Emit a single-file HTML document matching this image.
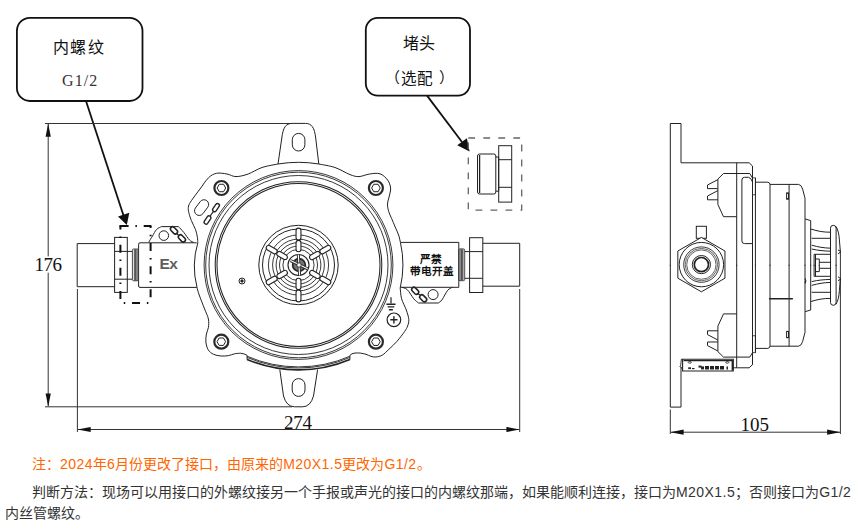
<!DOCTYPE html>
<html lang="zh-CN">
<head>
<meta charset="utf-8">
<style>
html,body{margin:0;padding:0;background:#fff;}
body{width:860px;height:532px;overflow:hidden;position:relative;font-family:"Liberation Sans",sans-serif;}
svg{position:absolute;left:0;top:0;}
.t{position:absolute;white-space:nowrap;}
.l{letter-spacing:0.45px;}
.note{position:absolute;left:5px;width:851px;font-size:14px;line-height:21px;color:#333;}
</style>
</head>
<body>
<svg width="860" height="532" viewBox="0 0 860 532">
<g fill="none" stroke="#222" stroke-width="1">
<rect x="16.9" y="17.8" width="125.6" height="83.2" rx="13" stroke="#111" stroke-width="1.8"/>
<rect x="365.8" y="17.9" width="104.2" height="77.7" rx="12" stroke="#111" stroke-width="1.8"/>
</g>
<g stroke="#111" stroke-width="1.8" fill="#111">
<line x1="86" y1="101" x2="123.5" y2="215.5"/>
<path d="M126.8,224.9 L118,216.6 L129.3,212.8 z" stroke="none"/>
<line x1="427" y1="95.6" x2="462" y2="142"/>
<path d="M469.6,151.5 L457.2,145.2 L466.9,138.2 z" stroke="none"/>
</g>
<g stroke="#333" stroke-width="1" fill="none">
<line x1="45" y1="123.5" x2="290" y2="123.5"/>
<line x1="45" y1="406.8" x2="292" y2="406.8"/>
<line x1="48.2" y1="124" x2="48.2" y2="256.4"/><line x1="48.2" y1="272.7" x2="48.2" y2="406"/>
<line x1="77.4" y1="289" x2="77.4" y2="432"/>
<line x1="519.7" y1="289" x2="519.7" y2="432"/>
<line x1="78" y1="429.5" x2="519" y2="429.5"/>
<line x1="670.3" y1="409.5" x2="670.3" y2="434"/>
<line x1="840.4" y1="252" x2="840.4" y2="434"/>
<line x1="671" y1="432.2" x2="840" y2="432.2"/>
</g>
<g fill="#111" stroke="none">
<path d="M48.2,123.5 L45.6,136.8 L50.8,136.8 z"/>
<path d="M48.2,406.8 L45.6,393.5 L50.8,393.5 z"/>
<path d="M77.4,429.5 L90.7,426.9 L90.7,432.1 z"/>
<path d="M519.7,429.5 L506.4,426.9 L506.4,432.1 z"/>
<path d="M670.3,432.2 L683.6,429.6 L683.6,434.8 z"/>
<path d="M840.4,432.2 L827.1,429.6 L827.1,434.8 z"/>
</g>
<g fill="none" stroke="#222" stroke-width="1">
<path d="M278,164 L281.8,138 C283,127.5 286,123.4 292,123.4 L305.5,123.4 C311.5,123.4 314.5,127.5 315.7,138 L318.8,164"/>
<path d="M278,164 Q298.5,160.6 318.8,164"/>
<path d="M318.8,164 C321.5,164.58 329.8,165.73 335,167.5 C340.2,169.27 346,173.08 350,174.6 C354,176.12 355.73,176.7 359,176.6 C362.27,176.5 366.1,174.47 369.6,174 C373.1,173.53 377,172.8 380,173.8 C383,174.8 385.83,177.63 387.6,180 C389.37,182.37 390.32,185.33 390.6,188 C390.88,190.67 389.82,193.33 389.3,196 C388.78,198.67 387.6,201.42 387.5,204 C387.4,206.58 388.02,209.08 388.7,211.5 C389.38,213.92 390.52,215.92 391.6,218.5 C392.68,221.08 394.03,224.25 395.2,227 C396.37,229.75 397.73,232.45 398.6,235 C399.47,237.55 400.1,241.08 400.4,242.3"/>
<path d="M400.2,288 C400.43,289.8 400.58,295.13 401.6,298.8 C402.62,302.47 405.1,306.55 406.3,310 C407.5,313.45 408.58,316.83 408.8,319.5 C409.02,322.17 408.3,324 407.6,326 C406.9,328 406.37,328.95 404.6,331.5 C402.83,334.05 399.63,338.32 397,341.3 C394.37,344.28 391.25,347.1 388.8,349.4 C386.35,351.7 384.47,353.83 382.3,355.1 C380.13,356.37 377.7,356.8 375.8,357 C373.9,357.2 372.53,356.75 370.9,356.3 C369.27,355.85 367.77,354.83 366,354.3 C364.23,353.77 362.13,353.32 360.3,353.1 C358.47,352.88 355.88,353.02 355,353"/>
<path d="M278,164 C275.33,164.58 266.97,165.83 262,167.5 C257.03,169.17 252.53,172.48 248.2,174 C243.87,175.52 239.53,176.6 236,176.6 C232.47,176.6 230.23,174.55 227,174 C223.77,173.45 219.68,172.67 216.6,173.3 C213.52,173.93 211.27,175.18 208.5,177.8 C205.73,180.42 202.83,185.22 200,189 C197.17,192.78 193.4,197.67 191.5,200.5 C189.6,203.33 189.08,204.17 188.6,206 C188.12,207.83 188.15,209.1 188.6,211.5 C189.05,213.9 190.13,217.35 191.3,220.4 C192.47,223.45 194.58,226.98 195.6,229.8 C196.62,232.62 197.03,235.13 197.4,237.3 C197.77,239.47 197.73,241.88 197.8,242.8"/>
<path d="M196.8,287 C197.2,288.33 197.9,291.33 199.2,295 C200.5,298.67 203.07,305 204.6,309 C206.13,313 207.77,315.92 208.4,319 C209.03,322.08 208.73,325 208.4,327.5 C208.07,330 206.82,331.58 206.4,334 C205.98,336.42 205.6,339.37 205.9,342 C206.2,344.63 206.93,347.75 208.2,349.8 C209.47,351.85 211.37,353.27 213.5,354.3 C215.63,355.33 218.5,355.78 221,356 C223.5,356.22 226.25,355.97 228.5,355.6 C230.75,355.23 232.5,354.2 234.5,353.8 C236.5,353.4 239.5,353.3 240.5,353.2"/>
<path d="M400.4,242.3 Q405.6,265 400.2,288 M197.8,242.8 Q191.2,265 197,287.2"/>
<path d="M240.5,353.2 Q244,353.4 247.1,355.4 L247.1,359.7"/>
<path d="M355,353 Q351.5,353.4 349.9,355.4 L349.9,359.7"/>
<path d="M349.9,356.24 A129.2,129.2 0 0 1 247.1,356.24" stroke-width="0.9"/>
<path d="M349.9,357.43 A130.3,130.3 0 0 1 247.1,357.43" stroke-width="0.9"/>
<path d="M349.9,359.5 A132.2,132.2 0 0 1 247.1,359.5" stroke-width="1.7"/>
<path d="M279.8,369.6 L283.5,396 Q286.5,406.8 294.5,406.8 L302.5,406.8 Q310.5,406.8 313.5,396 L317.6,369.6"/>
<rect x="292.3" y="133.4" width="12.6" height="17.6" rx="6.3"/>
<rect x="292.2" y="378.6" width="12.8" height="17.8" rx="6.4"/>
<circle cx="298.5" cy="265.0" r="94.4" stroke-width="0.9"/>
<circle cx="298.5" cy="265.0" r="92.8" stroke-width="0.9"/>
<circle cx="298.5" cy="265.0" r="89.5" stroke-width="0.9"/>
<circle cx="298.5" cy="265.0" r="83.3" stroke-width="1.05"/>
<circle cx="298.5" cy="265.0" r="81.5" stroke-width="1.05"/>
<circle cx="221.4" cy="188" r="7" stroke="#2a2a2a" stroke-width="2.2"/>
<path d="M225.7,188 L223.55,191.72 L219.25,191.72 L217.1,188 L219.25,184.28 L223.55,184.28Z" stroke-width="1"/>
<circle cx="375.9" cy="188" r="7" stroke="#2a2a2a" stroke-width="2.2"/>
<path d="M380.2,188 L378.05,191.72 L373.75,191.72 L371.6,188 L373.75,184.28 L378.05,184.28Z" stroke-width="1"/>
<circle cx="221.3" cy="341.7" r="7" stroke="#2a2a2a" stroke-width="2.2"/>
<path d="M225.6,341.7 L223.45,345.42 L219.15,345.42 L217,341.7 L219.15,337.98 L223.45,337.98Z" stroke-width="1"/>
<circle cx="375.9" cy="341.7" r="7" stroke="#2a2a2a" stroke-width="2.2"/>
<path d="M380.2,341.7 L378.05,345.42 L373.75,345.42 L371.6,341.7 L373.75,337.98 L378.05,337.98Z" stroke-width="1"/>
<path d="M195.41,208.01 L200.28,201.54 A4.7,4.7 0 0 1 207.79,207.19 L202.92,213.66 A4.7,4.7 0 0 1 195.41,208.01Z"/>
<path d="M212.9,208.71 L215.87,204.31 A1.95,1.95 0 0 1 219.1,206.49 L216.13,210.89 A1.95,1.95 0 0 1 212.9,208.71Z" stroke-width="1.35"/>
<path d="M213.3,211.6 L210.2,216" stroke-width="1.2"/>
<path d="M204.4,221.11 L207.37,216.71 A1.95,1.95 0 0 1 210.6,218.89 L207.63,223.29 A1.95,1.95 0 0 1 204.4,221.11Z" stroke-width="1.35"/>
<circle cx="242" cy="281" r="3"/><circle cx="242" cy="281" r="1.2" fill="#222"/>
<path d="M391,297.3 L391,303.6" stroke-width="1.2"/>
<path d="M386.4,304.2 L395.5,304.2 M387.6,306.9 L394.3,306.9 M388.9,309.7 L392.9,309.7" stroke-width="1.4"/>
<circle cx="393.9" cy="319.8" r="6.8" stroke-width="1.2"/>
<path d="M390.3,319.8 L397.5,319.8 M393.9,316.2 L393.9,323.4" stroke-width="1.4"/>
<circle cx="298.5" cy="265.0" r="39.7"/>
<circle cx="298.5" cy="265.0" r="36"/>
<circle cx="298.5" cy="265.0" r="30.1" stroke-width="0.9"/>
<circle cx="298.5" cy="265.0" r="25.9" stroke-width="0.9"/>
<circle cx="298.5" cy="265.0" r="22.4" stroke-width="0.9"/>
<circle cx="298.5" cy="265.0" r="19.0" stroke-width="0.9"/>
<circle cx="298.5" cy="265.0" r="15.6" stroke-width="0.9"/>
<circle cx="298.5" cy="265.0" r="10.5" stroke-width="1.1"/>
<path d="M300.95,292.45 L300.95,299.45 A2.45,2.45 0 0 1 296.05,299.45 L296.05,292.45 A2.45,2.45 0 0 1 300.95,292.45Z" fill="#fff" stroke-width="1.1"/>
<path d="M300.95,280.65 L300.95,287.15 A2.45,2.45 0 0 1 296.05,287.15 L296.05,280.65 A2.45,2.45 0 0 1 300.95,280.65Z" fill="#fff" stroke-width="1.1"/>
<path d="M275.95,280.85 L269.89,284.35 A2.45,2.45 0 0 1 267.44,280.1 L273.5,276.6 A2.45,2.45 0 0 1 275.95,280.85Z" fill="#fff" stroke-width="1.1"/>
<path d="M286.17,274.95 L280.54,278.2 A2.45,2.45 0 0 1 278.09,273.95 L283.72,270.7 A2.45,2.45 0 0 1 286.17,274.95Z" fill="#fff" stroke-width="1.1"/>
<path d="M273.5,253.4 L267.44,249.9 A2.45,2.45 0 0 1 269.89,245.65 L275.95,249.15 A2.45,2.45 0 0 1 273.5,253.4Z" fill="#fff" stroke-width="1.1"/>
<path d="M283.72,259.3 L278.09,256.05 A2.45,2.45 0 0 1 280.54,251.8 L286.17,255.05 A2.45,2.45 0 0 1 283.72,259.3Z" fill="#fff" stroke-width="1.1"/>
<path d="M296.05,237.55 L296.05,230.55 A2.45,2.45 0 0 1 300.95,230.55 L300.95,237.55 A2.45,2.45 0 0 1 296.05,237.55Z" fill="#fff" stroke-width="1.1"/>
<path d="M296.05,249.35 L296.05,242.85 A2.45,2.45 0 0 1 300.95,242.85 L300.95,249.35 A2.45,2.45 0 0 1 296.05,249.35Z" fill="#fff" stroke-width="1.1"/>
<path d="M321.05,249.15 L327.11,245.65 A2.45,2.45 0 0 1 329.56,249.9 L323.5,253.4 A2.45,2.45 0 0 1 321.05,249.15Z" fill="#fff" stroke-width="1.1"/>
<path d="M310.83,255.05 L316.46,251.8 A2.45,2.45 0 0 1 318.91,256.05 L313.28,259.3 A2.45,2.45 0 0 1 310.83,255.05Z" fill="#fff" stroke-width="1.1"/>
<path d="M323.5,276.6 L329.56,280.1 A2.45,2.45 0 0 1 327.11,284.35 L321.05,280.85 A2.45,2.45 0 0 1 323.5,276.6Z" fill="#fff" stroke-width="1.1"/>
<path d="M313.28,270.7 L318.91,273.95 A2.45,2.45 0 0 1 316.46,278.2 L310.83,274.95 A2.45,2.45 0 0 1 313.28,270.7Z" fill="#fff" stroke-width="1.1"/>
<circle cx="299" cy="265" r="6.3" fill="#777" stroke="#2a2a2a" stroke-width="1.8"/>
<path d="M290.6,260.6 L307.6,268.8 M298.3,254.6 L299.6,275.4" stroke="#2a2a2a" stroke-width="3"/>
<path d="M290.6,260.6 L307.6,268.8 M298.3,254.6 L299.6,275.4" stroke="#fff" stroke-width="1.1"/>
<circle cx="299" cy="265" r="2.2" fill="#fff" stroke="#2a2a2a" stroke-width="0.9"/>

</g>
<g fill="none" stroke="#222" stroke-width="1">
<path d="M196.7,242.8 L140,242.8 Q138.6,242.8 138.6,244.2 L138.6,286 Q138.6,287.4 140,287.4 L196.8,287.4"/>
<path d="M148.8,242 C149.42,241 151.22,238.08 152.5,236 C153.78,233.92 155,231.07 156.5,229.5 C158,227.93 160.67,227.08 161.5,226.6"/>
<path d="M161.5,226.6 L178.5,226.6"/>
<path d="M178.5,226.6 C179.38,227.57 181.97,230.17 183.8,232.4 C185.63,234.63 187.88,238.35 189.5,240 C191.12,241.65 192.83,241.92 193.5,242.3"/>
<circle cx="163.8" cy="235.6" r="4.8"/>
<path d="M174.19,227.43 L176.97,230.31 A2.2,2.2 0 0 1 173.81,233.37 L171.03,230.49 A2.2,2.2 0 0 1 174.19,227.43Z" stroke-width="1.55"/>
<path d="M182.09,235.43 L184.87,238.31 A2.2,2.2 0 0 1 181.71,241.37 L178.93,238.49 A2.2,2.2 0 0 1 182.09,235.43Z" stroke-width="1.55"/>
<path d="M176.6,233.5 L179,235.6 M418,293.8 L420.4,295.3" stroke-width="1.2"/>
<rect x="134.2" y="249.4" width="4.2" height="31.2" fill="#8a8a8a" stroke="none"/>
<rect x="132.4" y="249" width="6" height="31.8" rx="1.3" stroke="#333" stroke-width="0.9"/>
<line x1="134.3" y1="249.4" x2="134.3" y2="280.4" stroke="#444" stroke-width="0.8"/>
<line x1="135.6" y1="249.4" x2="135.6" y2="280.4" stroke="#444" stroke-width="0.8"/>
<path d="M114.6,251.4 L132.2,251.4 M114.6,279.2 L132.2,279.2"/>
<rect x="114.6" y="237.4" width="12.7" height="55"/>
<path d="M114.6,243.6 L77.2,243.6 L77.2,286.7 L114.6,286.7"/>
<path d="M119.4,226 L151.4,226" stroke="#111" stroke-width="2" fill="none" style="stroke-dasharray:9.2,6.8,1.5,6.8"/>
<path d="M150.6,226 L150.6,303" stroke="#111" stroke-width="2" stroke-dasharray="8,6.8,1.5,6.8" fill="none" stroke-dashoffset="6"/>
<path d="M150.6,303 L120.4,303" stroke="#111" stroke-width="2" stroke-dasharray="8,6.8,1.5,6.8" fill="none" stroke-dashoffset="12.55"/>
<path d="M120.4,226 L120.4,303" stroke="#111" stroke-width="2" stroke-dasharray="8,6.8,1.5,6.8" fill="none" stroke-dashoffset="4.4"/>
<path d="M400.7,242.4 L458.8,242.4 L458.8,287.3 L400.7,287.3"/>
<path d="M401.6,287.3 C402.53,287.68 405.17,287.68 407.2,289.6 C409.23,291.52 411.92,296.57 413.8,298.8 C415.68,301.03 417.72,302.3 418.5,303"/>
<path d="M418.5,303 L438.3,303"/>
<path d="M438.3,303 C438.92,302.47 440.43,301.92 442,299.8 C443.57,297.68 445.97,292.38 447.7,290.3 C449.43,288.22 451.62,287.8 452.4,287.3"/>
<circle cx="433.1" cy="294.6" r="5"/>
<path d="M415.41,287.9 L418.1,290.59 A2.2,2.2 0 0 1 414.99,293.7 L412.3,291.01 A2.2,2.2 0 0 1 415.41,287.9Z" stroke-width="1.55"/>
<path d="M423.41,295.4 L426.1,298.09 A2.2,2.2 0 0 1 422.99,301.2 L420.3,298.51 A2.2,2.2 0 0 1 423.41,295.4Z" stroke-width="1.55"/>
<rect x="458.8" y="249.3" width="4.6" height="31.2" fill="#8a8a8a" stroke="none"/>
<rect x="458.7" y="248.9" width="6" height="31.8" rx="1.3" stroke="#333" stroke-width="0.9"/>
<line x1="462.8" y1="249.3" x2="462.8" y2="280.3" stroke="#444" stroke-width="0.8"/>
<line x1="461.5" y1="249.3" x2="461.5" y2="280.3" stroke="#444" stroke-width="0.8"/>
<path d="M464.8,251.6 L482.8,251.6 M464.8,278.3 L482.8,278.3"/>
<rect x="469.6" y="237.7" width="13.2" height="54.8"/>
<path d="M482.8,243.3 L519.7,243.3 L519.7,286.2 L482.8,286.2"/>
<rect x="468.3" y="138" width="53.4" height="72.2" stroke="#666" stroke-width="1.3" stroke-dasharray="6.8,8.2" fill="none"/>
<rect x="477.5" y="154" width="18.3" height="40" rx="2"/>
<line x1="479.6" y1="155" x2="479.6" y2="193" stroke-width="1.3"/>
<path d="M495.8,157 L498.7,157 L498.7,191.2 L495.8,191.2"/>
<rect x="498.7" y="145.7" width="13" height="56.4"/>
<path d="M498.7,159.7 L511.7,159.7 M498.7,187.3 L511.7,187.3"/>

</g>
<g fill="none" stroke="#222" stroke-width="1">
<g><path d="M670.3,265.8 L670.3,123.5 L681,123.5 L681,162.8 L749.2,162.8 L752.5,166 L752.5,176.3"/><path d="M736.7,216.7 L723.5,216.7 L717.9,204.5 L717.9,179 L723.5,173.5 L749.8,173.5 L752.5,178"/><path d="M717.9,179.6 L707.5,185 L707.5,188.6 L717.9,188.6 M717.9,190.6 L707.5,196 L707.5,199.8 L717.9,199.8"/><path d="M736.7,162.8 L736.7,265.8"/><path d="M752.5,166 L752.5,265.8 M755.4,177.9 L755.4,265.8"/><rect x="752.5" y="177.9" width="2.9" height="16.9" stroke-width="0.8"/><path d="M755.4,182.2 L767.8,182.2 Q770,182.4 770,184.8 L770,265.8"/><path d="M770,184.4 L798.5,184.4 Q801.3,184.6 802.6,189 L805,198.2 L805,218.9 L810.7,220.6 L810.7,265.8"/><path d="M789.1,184.4 L789.1,265.8 M805,218.9 L805,265.8"/><rect x="786.6" y="192.9" width="1.9" height="6.3"/><path d="M810.7,229 C818,231.3 824,232.3 830.5,232.2"/><path d="M811.7,238.3 L830.5,238.3"/><path d="M811.7,245.2 C818,247 824,248 830.5,248.2 M811.7,249 C818,250.5 824,251 830.5,251.2"/><path d="M814.1,254.3 L830.5,254.3 M814.1,254.3 L814.1,265.8 M815.5,254.3 L815.5,265.8 M815.5,259 L819.3,259 L819.3,265.8 M819.3,262.3 L830.5,262.3"/><path d="M830.5,265.8 L830.5,228.2 Q830.5,225.3 833.3,225.3 Q836.1,225.3 836.1,228.2 L836.1,265.8"/><path d="M836.1,226.5 Q838.8,231 839.4,240 L840.4,252"/><path d="M838,250 L841,251.5 L838,254"/></g>
<g transform="translate(0,530.6) scale(1,-1)"><path d="M670.3,265.8 L670.3,123.5 L681,123.5 L681,162.8 L749.2,162.8 L752.5,166 L752.5,176.3"/><path d="M736.7,216.7 L723.5,216.7 L717.9,204.5 L717.9,179 L723.5,173.5 L749.8,173.5 L752.5,178"/><path d="M717.9,179.6 L707.5,185 L707.5,188.6 L717.9,188.6 M717.9,190.6 L707.5,196 L707.5,199.8 L717.9,199.8"/><path d="M736.7,162.8 L736.7,265.8"/><path d="M752.5,166 L752.5,265.8 M755.4,177.9 L755.4,265.8"/><rect x="752.5" y="177.9" width="2.9" height="16.9" stroke-width="0.8"/><path d="M755.4,182.2 L767.8,182.2 Q770,182.4 770,184.8 L770,265.8"/><path d="M770,184.4 L798.5,184.4 Q801.3,184.6 802.6,189 L805,198.2 L805,218.9 L810.7,220.6 L810.7,265.8"/><path d="M789.1,184.4 L789.1,265.8 M805,218.9 L805,265.8"/><rect x="786.6" y="192.9" width="1.9" height="6.3"/><path d="M810.7,229 C818,231.3 824,232.3 830.5,232.2"/><path d="M811.7,238.3 L830.5,238.3"/><path d="M811.7,245.2 C818,247 824,248 830.5,248.2 M811.7,249 C818,250.5 824,251 830.5,251.2"/><path d="M814.1,254.3 L830.5,254.3 M814.1,254.3 L814.1,265.8 M815.5,254.3 L815.5,265.8 M815.5,259 L819.3,259 L819.3,265.8 M819.3,262.3 L830.5,262.3"/><path d="M830.5,265.8 L830.5,228.2 Q830.5,225.3 833.3,225.3 Q836.1,225.3 836.1,228.2 L836.1,265.8"/><path d="M836.1,226.5 Q838.8,231 839.4,240 L840.4,252"/><path d="M838,250 L841,251.5 L838,254"/></g>
<path d="M744.5,177.3 L748.5,177.3 Q751,177.6 752.5,182 L752.5,243.6 L744.5,243.6 Q741.9,243.6 741.9,241 L741.9,180 Q741.9,177.3 744.5,177.3Z"/>
<rect x="696.3" y="226.3" width="10.1" height="12" fill="#fff"/>
<path d="M701.4,237.4 L724.96,251 L724.96,278.2 L701.4,291.8 L677.84,278.2 L677.84,251Z" fill="#fff"/>
<circle cx="701.4" cy="264.6" r="22.2" stroke-width="1"/>
<circle cx="701.4" cy="264.6" r="17.7" stroke-width="0.9"/>
<circle cx="701.4" cy="264.6" r="16.2" stroke-width="0.7"/>
<circle cx="701.4" cy="264.6" r="14.7" stroke-width="0.7"/>
<circle cx="701.4" cy="264.6" r="9.1" stroke-width="1"/>
<circle cx="701.4" cy="264.6" r="7.1" stroke-width="1.7"/>
<path d="M769.6,298.8 L792.4,298.8" stroke-width="1.5" stroke-linecap="round"/>
<path d="M805,278.5 Q806.6,280.9 805,283.3" stroke-width="1.2"/>
<path d="M682.6,371 L682.6,359.2 L733.3,359.2 L733.3,371 Z" fill="#fff" stroke-width="1.1"/>
<path d="M683.5,360.6 L732.5,360.6" stroke-width="1.3"/>
<path d="M732.4,360 L732.4,370.5" stroke-width="1.6"/>
<path d="M681.4,358.8 L680.6,366.5 M679.6,366 L681.4,368.2" stroke-width="0.9"/>
<ellipse cx="689.8" cy="362.4" rx="1.6" ry="0.8" stroke-width="0.8"/><ellipse cx="727.3" cy="362.4" rx="1.6" ry="0.8" stroke-width="0.8"/>
<g fill="#222" stroke="none"><rect x="688.2" y="367.3" width="2.8" height="1.8"/><rect x="692" y="368" width="2.5" height="1.2"/><rect x="698.5" y="365.6" width="3" height="2"/><rect x="701" y="366.4" width="3" height="3"/><rect x="705" y="366" width="4" height="3.5"/><rect x="710" y="366" width="4" height="3.5"/><rect x="715" y="366" width="4" height="3.5"/><rect x="720" y="366" width="4" height="3.5"/><rect x="726.5" y="366.5" width="1.5" height="3"/></g>

</g>
</svg>

<div class="t" style="left:53px;top:34px;font-size:16px;letter-spacing:1.3px;font-weight:300;font-family:'Liberation Serif',serif;color:#111">内螺纹</div>
<div class="t" style="left:62px;top:72px;font-size:16px;letter-spacing:1.1px;font-family:'Liberation Serif',serif;color:#333">G1/2</div>
<div class="t" style="left:403px;top:30px;font-size:16px;font-weight:300;font-family:'Liberation Serif',serif;color:#111">堵头</div>
<div class="t" style="left:384.5px;top:66px;font-size:15px;font-weight:300;font-family:'Liberation Serif',serif;color:#111">（</div>
<div class="t" style="left:400.5px;top:65.5px;font-size:15.6px;font-weight:300;font-family:'Liberation Serif',serif;color:#111">选配</div>
<div class="t" style="left:439px;top:66px;font-size:15px;font-weight:300;font-family:'Liberation Serif',serif;color:#111">）</div>
<div class="t" style="left:159.5px;top:255px;font-size:15.5px;font-weight:bold;color:#5e5e5e;letter-spacing:-0.5px">Ex</div>
<div class="t" style="left:419.5px;top:254px;font-size:10.6px;font-weight:900;color:#111;line-height:11px">严禁</div>
<div class="t" style="left:409.5px;top:266px;font-size:10.6px;font-weight:900;color:#111;line-height:11px">带电开盖</div>

<div class="t" style="left:34.5px;top:254px;font-size:19px;letter-spacing:-0.5px;font-family:'Liberation Serif',serif;color:#111">176</div>
<div class="t" style="left:284px;top:412.3px;font-size:19px;letter-spacing:-0.3px;font-family:'Liberation Serif',serif;color:#111">274</div>
<div class="t" style="left:740.5px;top:414.2px;font-size:19px;font-family:'Liberation Serif',serif;color:#111">105</div>

<div class="note" style="top:453.5px;text-indent:27px;color:#ff6600">注：<span class="l">2024</span>年<span class="l">6</span>月份更改了接口，由原来的<span class="l">M20X1.5</span>更改为<span class="l">G1/2</span>。</div>
<div class="note" style="top:481.5px;text-indent:27px;">判断方法：现场可以用接口的外螺纹接另一个手报或声光的接口的内螺纹那端，如果能顺利连接，接口为<span class="l">M20X1.5</span>；否则接口为<span class="l">G1/2</span>内丝管螺纹。</div>
</body>
</html>
